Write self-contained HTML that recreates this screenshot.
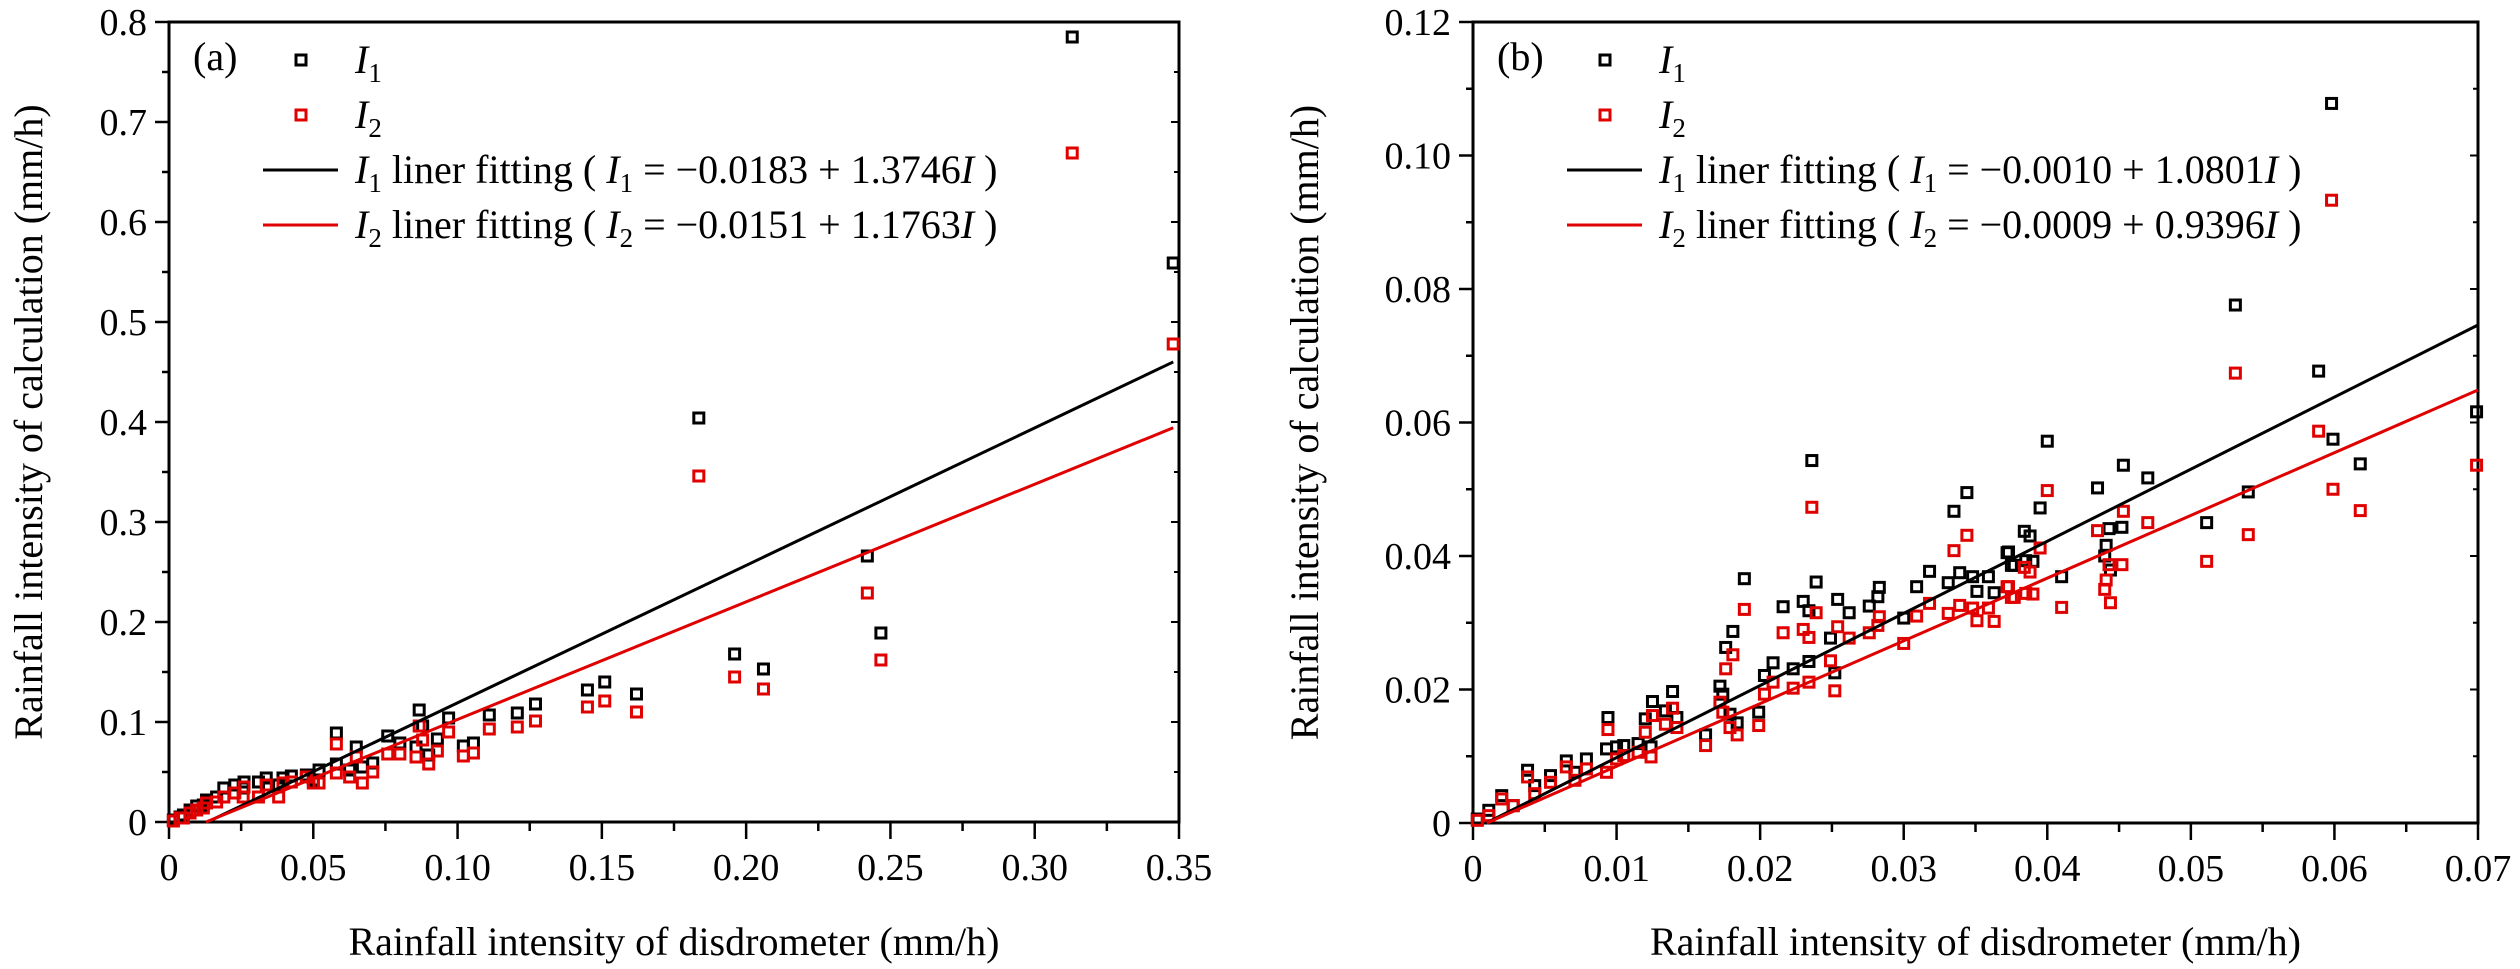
<!DOCTYPE html>
<html><head><meta charset="utf-8"><style>
html,body{margin:0;padding:0;background:#fff;}
svg{display:block;font-family:"Liberation Serif","Times New Roman",serif;}
</style></head><body>
<svg id="chart" width="2520" height="969" viewBox="0 0 2520 969" xmlns="http://www.w3.org/2000/svg"></svg>
<script>
// Panel (a) data
const aX = [0.313,0.348,0.1836,0.242,0.2467,0.196,0.206,0.151,0.145,0.162,0.127,0.1207,0.111,0.0969,0.0879,0.0867,0.058,0.0649,0.0758,0.102,0.1055,0.093,0.0856,0.08,0.090,0.0706,0.067,0.0626,0.058,0.052,0.0476,0.0424,0.0395,0.0337,0.031,0.026,0.0228,0.019,0.0165,0.013,0.0096,0.0073,0.005,0.0015,0.0038,0.0119,0.0257,0.038,0.05];
const aI1 = [0.785,0.559,0.404,0.266,0.189,0.168,0.153,0.140,0.132,0.128,0.118,0.109,0.107,0.104,0.096,0.112,0.089,0.075,0.086,0.076,0.079,0.083,0.075,0.079,0.067,0.059,0.055,0.052,0.058,0.052,0.047,0.046,0.044,0.044,0.040,0.040,0.037,0.034,0.025,0.022,0.016,0.012,0.007,0.002,0.005,0.017,0.034,0.037,0.042];
const aI2 = [0.669,0.478,0.346,0.229,0.162,0.145,0.133,0.121,0.115,0.110,0.101,0.095,0.093,0.090,0.082,0.096,0.078,0.065,0.068,0.066,0.069,0.071,0.065,0.068,0.058,0.050,0.039,0.045,0.049,0.039,0.045,0.040,0.039,0.037,0.025,0.035,0.029,0.025,0.020,0.019,0.012,0.009,0.004,0.001,0.004,0.014,0.025,0.025,0.039];
const aFit1 = [-0.0183, 1.3746];
const aFit2 = [-0.0151, 1.1763];
const aXTicks = ["0","0.05","0.10","0.15","0.20","0.25","0.30","0.35"];
const aYTicks = ["0","0.1","0.2","0.3","0.4","0.5","0.6","0.7","0.8"];

// Panel (b) data
const bX = [0.0236,0.0344,0.0335,0.0189,0.0239,0.0216,0.023,0.0234,0.0254,0.0262,0.0276,0.0282,0.0283,0.030,0.0309,0.0318,0.0331,0.0339,0.0348,0.0351,0.0359,0.0363,0.0373,0.0377,0.0181,0.0176,0.0249,0.0252,0.0209,0.0203,0.0223,0.0234,0.0172,0.0174,0.0199,0.0179,0.0184,0.0162,0.0139,0.0125,0.0094,0.012,0.0134,0.0142,0.0124,0.0115,0.0105,0.010,0.0093,0.0079,0.0065,0.0038,0.0054,0.0043,0.002,0.0028,0.0011,0.0003,0.0071,
 0.040,0.0453,0.047,0.0435,0.0395,0.0384,0.0388,0.0372,0.0375,0.0385,0.039,0.041,0.0443,0.0452,0.0441,0.044,0.0444,0.0511,0.054,0.0599,0.0618,0.0699,0.0598,0.0531,0.0589];
const bI1 = [0.0543,0.0495,0.0467,0.0366,0.0361,0.0324,0.0332,0.0318,0.0335,0.0315,0.0325,0.0339,0.0353,0.0307,0.0354,0.0377,0.036,0.0375,0.0369,0.0347,0.0369,0.0345,0.0406,0.0386,0.0287,0.0263,0.0277,0.0225,0.024,0.0221,0.0231,0.0242,0.0205,0.0193,0.0166,0.0163,0.015,0.0132,0.0197,0.0182,0.0158,0.0156,0.0168,0.0158,0.0114,0.0119,0.0116,0.0114,0.0111,0.0096,0.0093,0.0079,0.0071,0.0056,0.0041,0.0026,0.0019,0.0006,0.0076,
 0.0572,0.0536,0.0517,0.0502,0.0472,0.0437,0.043,0.0405,0.0386,0.0393,0.0392,0.0369,0.0441,0.0443,0.0416,0.040,0.0379,0.045,0.0496,0.0575,0.0538,0.0616,0.1078,0.0776,0.0677];
const bI2 = [0.0473,0.0431,0.0408,0.032,0.0315,0.0285,0.029,0.0278,0.0294,0.0277,0.0285,0.0296,0.0309,0.0269,0.031,0.0329,0.0314,0.0326,0.0322,0.0303,0.0322,0.0302,0.0354,0.0338,0.0252,0.0231,0.0243,0.0198,0.0211,0.0193,0.0202,0.0211,0.0181,0.0166,0.0146,0.0143,0.0132,0.0116,0.0172,0.0161,0.014,0.0136,0.0148,0.0143,0.0099,0.0106,0.0101,0.0096,0.0076,0.0081,0.0084,0.0069,0.0061,0.0044,0.0036,0.0026,0.0011,0.0004,0.0064,
 0.0498,0.0467,0.045,0.0438,0.0412,0.0383,0.0376,0.0354,0.0338,0.0344,0.0343,0.0323,0.0387,0.0387,0.0364,0.035,0.033,0.0392,0.0432,0.050,0.0468,0.0536,0.0933,0.0674,0.0587];
const bFit1 = [-0.0010, 1.0801];
const bFit2 = [-0.0009, 0.9396];
const bXTicks = ["0","0.01","0.02","0.03","0.04","0.05","0.06","0.07"];
const bYTicks = ["0","0.02","0.04","0.06","0.08","0.10","0.12"];

const NS = "http://www.w3.org/2000/svg";
const svg = document.getElementById('chart');
function mk(tag, attrs, parent){ const e=document.createElementNS(NS,tag); for(const k in attrs) e.setAttribute(k,attrs[k]); (parent||svg).appendChild(e); return e; }

function panel(cfg){
  const g = mk('g',{});
  
  
  const sx = v => cfg.x0 + (v - 0) / cfg.xmax * (cfg.x1 - cfg.x0);
  const sy = v => cfg.y0 - v / cfg.ymax * (cfg.y0 - cfg.y1);
  // frame
  const fr = mk('rect',{x:cfg.x0,y:cfg.y1,width:cfg.x1-cfg.x0,height:cfg.y0-cfg.y1,fill:'none',stroke:'#000','stroke-width':3},g);
  
  
  // x ticks
  const nx = cfg.xt.length-1;
  for(let i=0;i<=nx*2;i++){
    const v = cfg.xmax*i/(nx*2), X=sx(v), major=i%2==0;
    const t=mk('line',{x1:X,y1:cfg.y0,x2:X,y2:cfg.y0+(major?17:9),stroke:'#000','stroke-width':2.5},g);
    
    
    if(major){
      const lb=mk('text',{x:X,y:cfg.y0+58,'font-size':38,'text-anchor':'middle'},g);
      lb.textContent=cfg.xt[i/2];
      
      
    }
  }
  const ny = cfg.yt.length-1;
  for(let i=0;i<=ny*2;i++){
    const v = cfg.ymax*i/(ny*2), Y=sy(v), major=i%2==0;
    const t=mk('line',{x1:cfg.x0,y1:Y,x2:cfg.x0-(major?14:7),y2:Y,stroke:'#000','stroke-width':2.5},g);
    
    
    const t2=mk('line',{x1:cfg.x1,y1:Y,x2:cfg.x1-(major?8:5),y2:Y,stroke:'#000','stroke-width':2},g);
    
    
    if(major){
      const lb=mk('text',{x:cfg.x0-22,y:Y+13,'font-size':38,'text-anchor':'end'},g);
      lb.textContent=cfg.yt[i/2];
      
      
    }
  }
  // fit lines
  function fit(f,color,nm){
    let xs = Math.max(0, -f[0]/f[1]);
    const xe = cfg.xFitEnd;
    const l=mk('line',{x1:sx(xs),y1:sy(f[0]+f[1]*xs),x2:sx(xe),y2:sy(f[0]+f[1]*xe),stroke:color,'stroke-width':3},g);
    
    
  }
  // points
  function pts(xs,ys,color,nm){
    for(let i=0;i<xs.length;i++){
      const r=mk('rect',{x:sx(xs[i])-5,y:sy(ys[i])-5,width:10,height:10,fill:'none',stroke:color,'stroke-width':3},g);
      
      
    }
  }
  pts(cfg.X,cfg.I1,'#000','point-i1');
  pts(cfg.X,cfg.I2,'#e00000','point-i2');
  fit(cfg.f1,'#000','fit-line-i1');
  fit(cfg.f2,'#e00000','fit-line-i2');
  // panel label & legend
  const L = cfg.x0;
  const pl=mk('text',{x:L+24,y:70,'font-size':40},g); pl.textContent=cfg.label;
  
  
  const lg=mk('g',{},g);
  
  
  const m1=mk('rect',{x:L+127,y:55,width:10,height:10,fill:'none',stroke:'#000','stroke-width':3},lg);
  
  
  const m2=mk('rect',{x:L+127,y:110,width:10,height:10,fill:'none',stroke:'#e00000','stroke-width':3},lg);
  
  
  const l1=mk('line',{x1:L+94,y1:170,x2:L+169,y2:170,stroke:'#000','stroke-width':3},lg);
  
  
  const l2=mk('line',{x1:L+94,y1:225,x2:L+169,y2:225,stroke:'#e00000','stroke-width':3},lg);
  
  
  const rows=[[73,null],[128,null],[183,cfg.eq1],[238,cfg.eq2]];
  rows.forEach((r,idx)=>{
    const sub = (idx%2==0)?'1':'2';
    const t=mk('text',{x:L+186,y:r[0],'font-size':40},lg);
    
    
    let html='<tspan font-style="italic">I</tspan><tspan font-size="27" dy="9">'+sub+'</tspan>';
    if(r[1]) html+='<tspan dy="-9"> liner fitting ( </tspan><tspan font-style="italic">I</tspan><tspan font-size="27" dy="9">'+sub+'</tspan><tspan dy="-9"> = \u22120.0'+r[1][0]+' + '+r[1][1]+'</tspan><tspan font-style="italic">I</tspan><tspan> )</tspan>';
    t.innerHTML=html;
  });
  // axis titles
  const xt=mk('text',{x:(cfg.x0+cfg.x1)/2,y:955,'font-size':40,'text-anchor':'middle'},g);
  xt.textContent='Rainfall intensity of disdrometer (mm/h)';
  
  
  const yx=cfg.ytx, yy=(cfg.y0+cfg.y1)/2;
  const yt=mk('text',{x:yx,y:yy,'font-size':40,'text-anchor':'middle',transform:'rotate(-90 '+yx+' '+yy+')'},g);
  yt.textContent='Rainfall intensity of calculation (mm/h)';
  
  
}

panel({name:'panel-a',x0:169,x1:1179,y0:822,y1:22,xmax:0.35,ymax:0.8,xt:aXTicks,yt:aYTicks,X:aX,I1:aI1,I2:aI2,f1:aFit1,f2:aFit2,xFitEnd:0.348,label:'(a)',eq1:['183','1.3746'],eq2:['151','1.1763'],ytx:42});
panel({name:'panel-b',x0:1473,x1:2478,y0:823,y1:22,xmax:0.07,ymax:0.12,xt:bXTicks,yt:bYTicks,X:bX,I1:bI1,I2:bI2,f1:bFit1,f2:bFit2,xFitEnd:0.07,label:'(b)',eq1:['010','1.0801'],eq2:['009','0.9396'],ytx:1318});
</script>
</body></html>
